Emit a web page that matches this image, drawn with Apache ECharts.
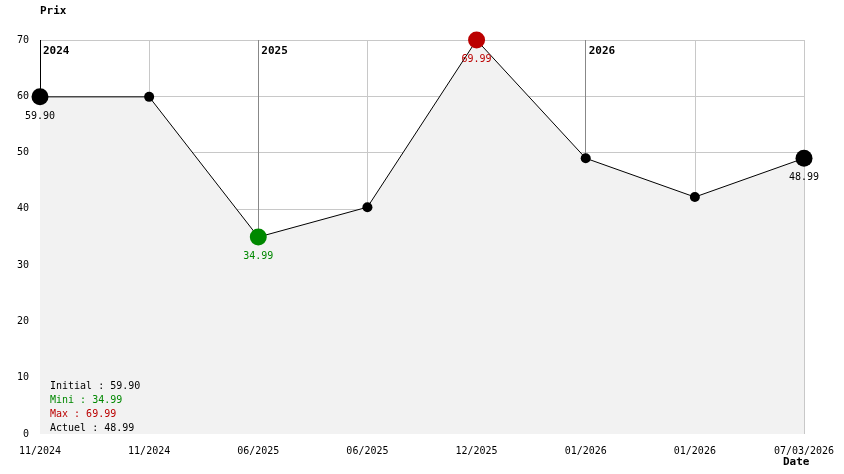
<!DOCTYPE html>
<html><head><meta charset="utf-8">
<script src="https://cdn.jsdelivr.net/npm/echarts@6/dist/echarts.min.js"></script>
<style>html,body{margin:0;padding:0;background:#fff}#c{width:844px;height:474px}</style>
</head><body><div id="c"></div>
<script>
const categories = ['11/2024','11/2024','06/2025','06/2025','12/2025','01/2026','01/2026','07/03/2026'];
const prices = [59.90, 59.90, 34.99, 40.3, 69.99, 48.99, 42.1, 48.99];
const yTicks = [0,10,20,30,40,50,60,70];
const years = ['2024','2025','2026'];
const yearIndex = [0, 2, 5];
const summaryLabels = ['Initial : 59.90','Mini : 34.99','Max : 69.99','Actuel : 48.99'];

const FONT = '"DejaVu Sans Mono", monospace';
const minV = Math.min(...prices), maxV = Math.max(...prices);
const iMin = prices.indexOf(minV), iMax = prices.indexOf(maxV);
const last = prices.length - 1;

const pointData = prices.map((v, i) => {
  let color = '#000', size = 10, label = null;
  if (i === iMin) { color = '#008800'; size = 17; label = '#008800'; }
  else if (i === iMax) { color = '#bb0000'; size = 17; label = '#bb0000'; }
  else if (i === 0 || i === last) { size = 17; label = '#000'; }
  return {
    value: v, symbolSize: size, itemStyle: { color: color },
    label: label ? { show: true, position: 'bottom', distance: 6, color: label,
      fontFamily: FONT, fontSize: 10, formatter: (p) => p.value.toFixed(2) } : { show: false }
  };
});

const yearLineColors = ['#000', '#888', '#888'];
const markLines = yearIndex.map((idx, k) => ([
  { coord: [idx, yTicks[yTicks.length-1]], lineStyle: { color: yearLineColors[k], width: 1, type: 'solid' } },
  { coord: [idx, prices[idx]] }
]));

const yearLabelData = yearIndex.map((idx, k) => ({ value: [idx, yTicks[yTicks.length-1]], name: years[k] }));

const summaryColors = ['#000', '#008800', '#bb0000', '#000'];
const graphics = [
  { type: 'text', left: 40, top: 6, z: 100, style: { text: 'Prix', font: 'bold 11px ' + FONT, fill: '#000' } },
  { type: 'text', left: 783, top: 457, z: 100, style: { text: 'Date', font: 'bold 11px ' + FONT, fill: '#000' } }
].concat(summaryLabels.map((t, i) => ({
  type: 'text', left: 50, top: 381 + i * 14, z: 100, style: { text: t, font: '10px ' + FONT, fill: summaryColors[i] }
})));

const ySplitColors = yTicks.map((t, i) => i === 0 ? 'rgba(0,0,0,0)' : '#c8c8c8');

const chart = echarts.init(document.getElementById('c'), null, { renderer: 'canvas' });
chart.setOption({
  animation: false,
  backgroundColor: '#fff',
  grid: { left: 40, right: 40, top: 40, bottom: 40, containLabel: false },
  xAxis: {
    type: 'category', data: categories, boundaryGap: false,
    axisLine: { show: false }, axisTick: { show: false },
    axisLabel: { color: '#000', fontFamily: FONT, fontSize: 10, margin: 12, interval: 0, showMaxLabel: true, showMinLabel: true },
    splitLine: { show: true, lineStyle: { color: '#c8c8c8', width: 1 } }
  },
  yAxis: {
    type: 'value', min: 0, max: 70, interval: 10,
    axisLine: { show: false }, axisTick: { show: false },
    axisLabel: { color: '#000', fontFamily: FONT, fontSize: 10, margin: 11 },
    splitLine: { show: true, lineStyle: { color: ySplitColors, width: 1 } }
  },
  graphic: { elements: graphics },
  series: [
    {
      type: 'line', data: pointData, symbol: 'circle', showAllSymbol: true,
      lineStyle: { color: '#000', width: 1 },
      areaStyle: { color: '#f2f2f2', opacity: 1 },
      itemStyle: { color: '#000' },
      z: 3,
      markLine: { silent: true, symbol: ['none','none'], label: { show: false }, data: markLines, z: 2 }
    },
    {
      type: 'scatter', data: yearLabelData, symbolSize: 0, z: 4,
      itemStyle: { opacity: 1 },
      label: { show: true, position: 'right', distance: 3, offset: [0, 11],
        formatter: (p) => p.name, fontFamily: FONT, fontSize: 11, fontWeight: 'bold', color: '#000' }
    }
  ]
});
</script></body></html>
